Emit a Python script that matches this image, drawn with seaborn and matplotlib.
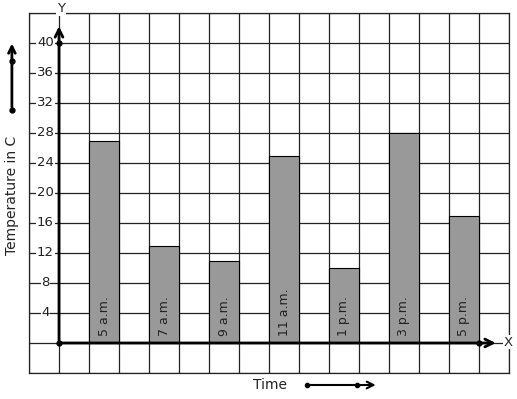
import matplotlib
matplotlib.use("Agg")
import matplotlib.pyplot as plt
import seaborn as sns
import pandas as pd

times = ["5 a.m.", "7 a.m.", "9 a.m.", "11 a.m.", "1 p.m.", "3 p.m.", "5 p.m."]
temps = [27, 13, 11, 25, 10, 28, 17]
yticks = [4, 8, 12, 16, 20, 24, 28, 32, 36, 40]

df = pd.DataFrame({"time": times, "temp": temps})
df["pos"] = [1.5 + 2 * i for i in range(len(times))]

sns.set_style("white")
fig = plt.figure(figsize=(5.17, 3.99), dpi=100)
ax = fig.add_axes([29 / 517, 26 / 399, 480 / 517, 360 / 399])

sns.barplot(data=df, x="pos", y="temp", native_scale=True, width=0.5,
            color="#999999", saturation=1, edgecolor="black", linewidth=0.8,
            ax=ax, zorder=3)

ax.set_xlim(-1, 15)
ax.set_ylim(-4, 44)
ax.set_xticks(range(-1, 16))
ax.set_yticks(range(-4, 45, 4))
ax.grid(True, color="#222222", linewidth=0.9, zorder=0)
ax.set_axisbelow(True)
ax.tick_params(length=0, labelbottom=False, labelleft=False)
ax.set_xlabel("")
ax.set_ylabel("")
for s in ax.spines.values():
    s.set_color("#222222")
    s.set_linewidth(0.9)

# bar labels
for p, t in zip(df["pos"], df["time"]):
    ax.text(p, 0.9, t, rotation=90, ha="center", va="bottom",
            fontsize=9, color="#222222", zorder=5)

# y tick labels sitting on the grid lines
for v in yticks:
    ax.text(-0.45, v, str(v), ha="center", va="center", fontsize=9.5,
            color="#222222", zorder=5,
            bbox=dict(facecolor="white", edgecolor="none", pad=0.5))

# axes with arrows
ax.annotate("", xy=(0, 42.6), xytext=(0, 0),
            arrowprops=dict(arrowstyle="->", lw=2, color="black",
                            mutation_scale=14), zorder=6)
ax.annotate("", xy=(14.65, 0), xytext=(0, 0),
            arrowprops=dict(arrowstyle="->", lw=2, color="black",
                            mutation_scale=14), zorder=6)
ax.plot([0, 0, 14], [0, 40, 0], "o", color="black", ms=3.5, zorder=7,
        clip_on=False)
ax.text(0.07, 44.6, "Y", ha="center", va="center", fontsize=9.5,
        bbox=dict(facecolor="white", edgecolor="none", pad=0.5), zorder=6)
ax.text(14.97, 0.1, "X", ha="center", va="center", fontsize=9.5,
        bbox=dict(facecolor="white", edgecolor="none", pad=0.5), zorder=6)

# axis labels with decorative arrows
ax.text(-1.57, 19.7, "Temperature in C", rotation=90, ha="center",
        va="center", fontsize=10, color="#222222", clip_on=False)
ax.annotate("", xy=(-1.57, 40.3), xytext=(-1.57, 31.1),
            arrowprops=dict(arrowstyle="->", lw=2, color="black",
                            mutation_scale=12), annotation_clip=False)
ax.plot([-1.57, -1.57], [31.1, 37.6], "o", color="black", ms=3.5,
        clip_on=False)

ax.text(7.03, -5.6, "Time", ha="center", va="center", fontsize=10,
        color="#222222", clip_on=False)
ax.annotate("", xy=(10.65, -5.6), xytext=(8.27, -5.6),
            arrowprops=dict(arrowstyle="->", lw=1.5, color="black",
                            mutation_scale=12), annotation_clip=False)
ax.plot([8.27, 9.93], [-5.6, -5.6], "o", color="black", ms=3,
        clip_on=False)

fig.savefig("out.png", dpi=100)
